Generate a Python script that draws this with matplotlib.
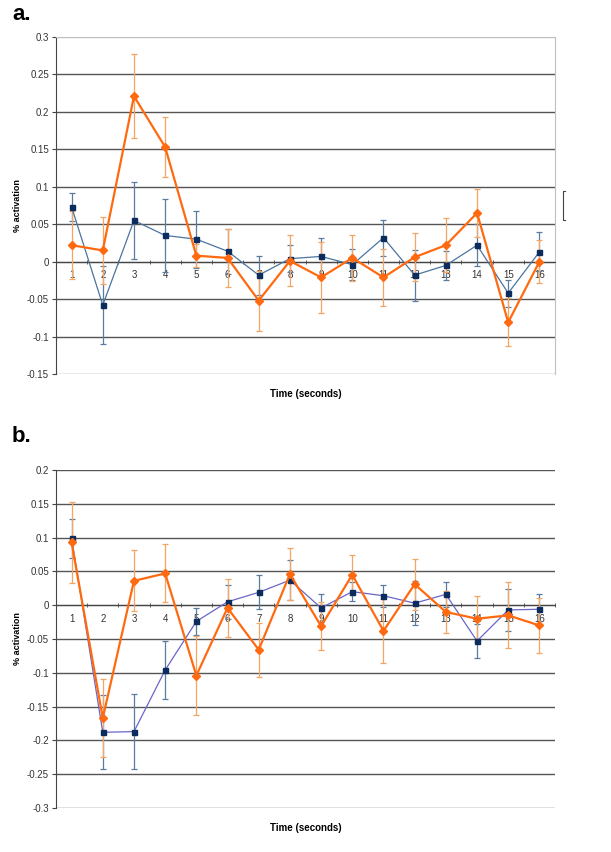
import matplotlib
matplotlib.use("Agg")
import matplotlib.pyplot as plt
import numpy as np
from matplotlib.lines import Line2D

plt.rcParams['font.family'] = ['Liberation Sans', 'DejaVu Sans']

seconds = list(range(1, 17))

# panel a
a_blue = [0.073, -0.058, 0.055, 0.035, 0.030, 0.014, -0.018, 0.004,
          0.007, -0.004, 0.032, -0.018, -0.005, 0.022, -0.042, 0.013]
a_blue_err = [0.019, 0.052, 0.052, 0.049, 0.038, 0.030, 0.026, 0.018,
              0.025, 0.021, 0.024, 0.034, 0.019, 0.028, 0.018, 0.026]
a_orange = [0.022, 0.015, 0.221, 0.153, 0.008, 0.005, -0.052, 0.001,
            -0.021, 0.005, -0.021, 0.006, 0.022, 0.065, -0.081, 0.000]
a_orange_err = [0.045, 0.045, 0.056, 0.040, 0.015, 0.039, 0.040, 0.034,
                0.047, 0.031, 0.038, 0.032, 0.036, 0.032, 0.032, 0.029]

# panel b
b_blue = [0.099, -0.188, -0.187, -0.096, -0.024, 0.005, 0.019, 0.037,
          -0.004, 0.020, 0.014, 0.003, 0.016, -0.053, -0.007, -0.006]
b_blue_err = [0.029, 0.055, 0.055, 0.043, 0.020, 0.025, 0.025, 0.030,
              0.021, 0.014, 0.016, 0.033, 0.018, 0.025, 0.031, 0.022]
b_orange = [0.093, -0.167, 0.036, 0.047, -0.104, -0.004, -0.066, 0.046,
            -0.031, 0.045, -0.038, 0.031, -0.010, -0.020, -0.015, -0.030]
b_orange_err = [0.060, 0.058, 0.045, 0.043, 0.058, 0.043, 0.040, 0.039,
                0.035, 0.030, 0.047, 0.038, 0.031, 0.034, 0.049, 0.041]

W, H = 611, 852
fig = plt.figure(figsize=(W / 100, H / 100), dpi=100)


def draw_panel(ax, blue, blue_err, orange, orange_err, ymin, ymax, line_col, framed):
    x = np.array(seconds)
    ax.set_xlim(0.5, 16.5)
    ax.set_ylim(ymin, ymax)
    ticks = np.round(np.arange(ymin, ymax + 0.001, 0.05), 2) + 0.0
    ax.set_yticks(ticks)
    ax.set_yticklabels([('%g' % (t + 0.0)) if abs(t) > 1e-9 else '0' for t in ticks],
                       fontsize=7, color='#333333')
    ax.grid(axis='y', color='#555555', lw=1.0)
    ax.set_axisbelow(True)
    for sp in ['top', 'right']:
        ax.spines[sp].set_visible(framed)
        ax.spines[sp].set_color('#c0c0c0')
    ax.spines['left'].set_color('#444444')
    ax.spines['bottom'].set_position(('data', 0))
    ax.spines['bottom'].set_color('#444444')
    gl = ax.get_ygridlines()
    if framed:
        gl[0].set_color('#999999')
        gl[-1].set_color('#c8c8c8')
    else:
        gl[0].set_color('#666666')
    ax.tick_params(axis='y', length=3, color='#444444', pad=2)
    ax.set_xticks(x)
    ax.set_xticklabels([str(s) for s in seconds], fontsize=7, color='#333333')
    ax.set_xticks(np.arange(0.5, 17, 1), minor=True)
    ax.tick_params(axis='x', which='major', length=0, pad=6)
    ax.tick_params(axis='x', which='minor', length=3, direction='inout', color='#444444')

    ax.errorbar(x, blue, yerr=blue_err, fmt='none', ecolor='#5a7ca0',
                elinewidth=0.9, capsize=2.5, capthick=0.9, zorder=3)
    ax.errorbar(x, orange, yerr=orange_err, fmt='none', ecolor='#f5a562',
                elinewidth=0.9, capsize=2.5, capthick=0.9, zorder=3)
    ax.plot(x, blue, color=line_col, lw=0.9, marker='s', ms=3.6,
            mfc='#0b2c5c', mec='#0b2c5c', zorder=4)
    ax.plot(x, orange, color='#ff6a10', lw=1.6, marker='D', ms=4.2,
            mfc='#ff6a10', mec='#ff6a10', zorder=5)

    ax.set_ylabel('% activation', fontsize=6.5, fontweight='bold')
    ax.yaxis.set_label_coords(-0.068, 0.5)
    ax.set_xlabel('Time (seconds)', fontsize=7, fontweight='bold')
    ax.xaxis.set_label_coords(0.5, -0.045)


ax_a = fig.add_axes([56 / W, 1 - 374 / H, 499 / W, 337 / H])
draw_panel(ax_a, a_blue, a_blue_err, a_orange, a_orange_err, -0.15, 0.3, '#4a74a0', True)

ax_b = fig.add_axes([56 / W, 1 - 808 / H, 499 / W, 338 / H])
draw_panel(ax_b, b_blue, b_blue_err, b_orange, b_orange_err, -0.3, 0.2, '#6a66c8', False)

fig.text(12 / W, 1 - 15 / H, 'a.', fontsize=16, fontweight='bold', va='center', ha='left')
fig.text(12 / W, 1 - 437 / H, 'b.', fontsize=16, fontweight='bold', va='center', ha='left')

# leftover legend bracket
fig.add_artist(Line2D([565 / W, 563 / W, 563 / W, 565 / W],
                      [1 - 191 / H, 1 - 191 / H, 1 - 220 / H, 1 - 220 / H],
                      color='#444444', lw=0.8))

fig.savefig('out.png', dpi=100)
